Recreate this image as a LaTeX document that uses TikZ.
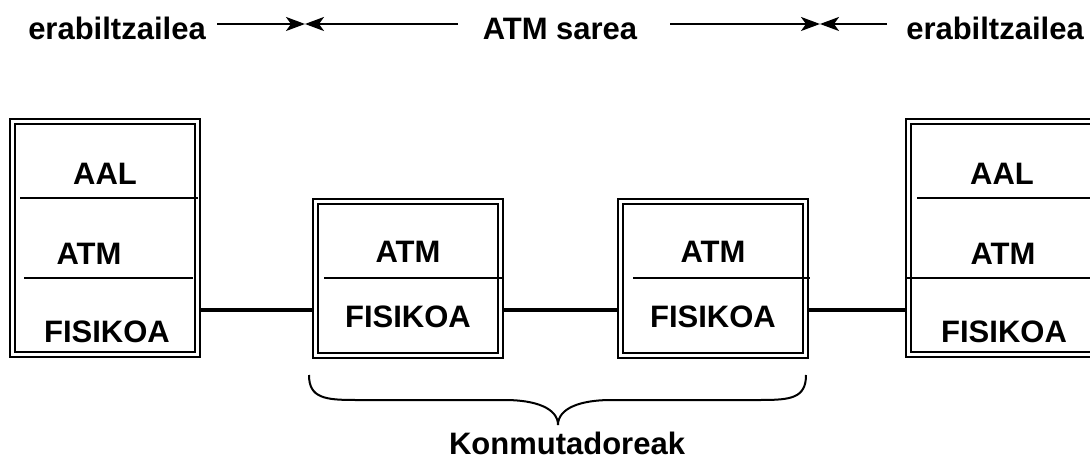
\documentclass[tikz,border=0pt]{standalone}
\usepackage{fontspec}
\setmainfont{Liberation Sans}
\usetikzlibrary{arrows.meta}
\begin{document}
\begin{tikzpicture}[x=1pt,y=-1pt,
  every node/.style={font=\fontsize{31}{36}\selectfont\bfseries, inner sep=0pt},
  layerbox/.style={draw, line width=2pt, double, double distance=3pt, minimum width=185pt, inner sep=0pt, outer sep=3.5pt},
  divider/.style={line width=1.6pt},
  link/.style={line width=4pt},
  halfarrow/.style={line width=2pt, -{Stealth[length=19pt,width=14pt,inset=5pt]}},
  brace/.style={line width=2pt}
]
\useasboundingbox (0,0) rectangle (1090,462);
\clip (0,0) rectangle (1090,462);

% boxes
\node[layerbox, minimum height=233pt] (L) at (105,238) {};
\node[layerbox, minimum height=154pt] (S1) at (408,278.5) {};
\node[layerbox, minimum height=154pt] (S2) at (713,278.5) {};
\node[layerbox, minimum height=233pt] (R) at (1001,238) {};

% dividers
\draw[divider] (20,198) -- (198,198);
\draw[divider] (24,278) -- (193,278);
\draw[divider] (324,278) -- (502,278);
\draw[divider] (633,278) -- (810,278);
\draw[divider] (917,198) -- (1090,198);
\draw[divider] (905,278) -- (1090,278);

% layer texts
\node (Laal) at (105,174) {AAL};
\node (Latm) at (89,254) {ATM};
\node (Lfis) at (107,332) {FISIKOA};
\node (S1atm) at (408,252) {ATM};
\node (S1fis) at (408,317) {FISIKOA};
\node (S2atm) at (713,252) {ATM};
\node (S2fis) at (713,317) {FISIKOA};
\node (Raal) at (1002,174) {AAL};
\node (Ratm) at (1003,254) {ATM};
\node (Rfis) at (1004,332) {FISIKOA};

% links
\coordinate (lk) at (0,310);
\draw[link] (L.east |- lk) -- (S1.west |- lk);
\draw[link] (S1.east |- lk) -- (S2.west |- lk);
\draw[link] (S2.east |- lk) -- (R.west |- lk);

% top row
\node[anchor=base] (U1) at (117,40) {erabiltzailea};
\node[anchor=base] (N) at (560,40) {ATM sarea};
\node[anchor=base] (U2) at (995,40) {erabiltzailea};
\coordinate (b1) at (305,24);
\coordinate (b2) at (820,24);
\coordinate (s1) at (217,24);
\coordinate (s2) at (458,24);
\coordinate (s3) at (670,24);
\coordinate (s4) at (887,24);
\draw[halfarrow] (s1) -- (b1);
\draw[halfarrow] (s2) -- (b1);
\draw[halfarrow] (s3) -- (b2);
\draw[halfarrow] (s4) -- (b2);

% brace
\coordinate (bl) at (309,375);
\coordinate (br) at (806,375);
\coordinate (bt) at (558,425);
\draw[brace] (bl) .. controls (309,398) and (325,400) .. (355,400) -- (505,400) .. controls (535,400) and (558,408) .. (bt);
\draw[brace] (bt) .. controls (558,408) and (581,400) .. (611,400) -- (761,400) .. controls (791,400) and (806,398) .. (br);
\node[anchor=base] (K) at (567,454) {Konmutadoreak};
\end{tikzpicture}
\end{document}
